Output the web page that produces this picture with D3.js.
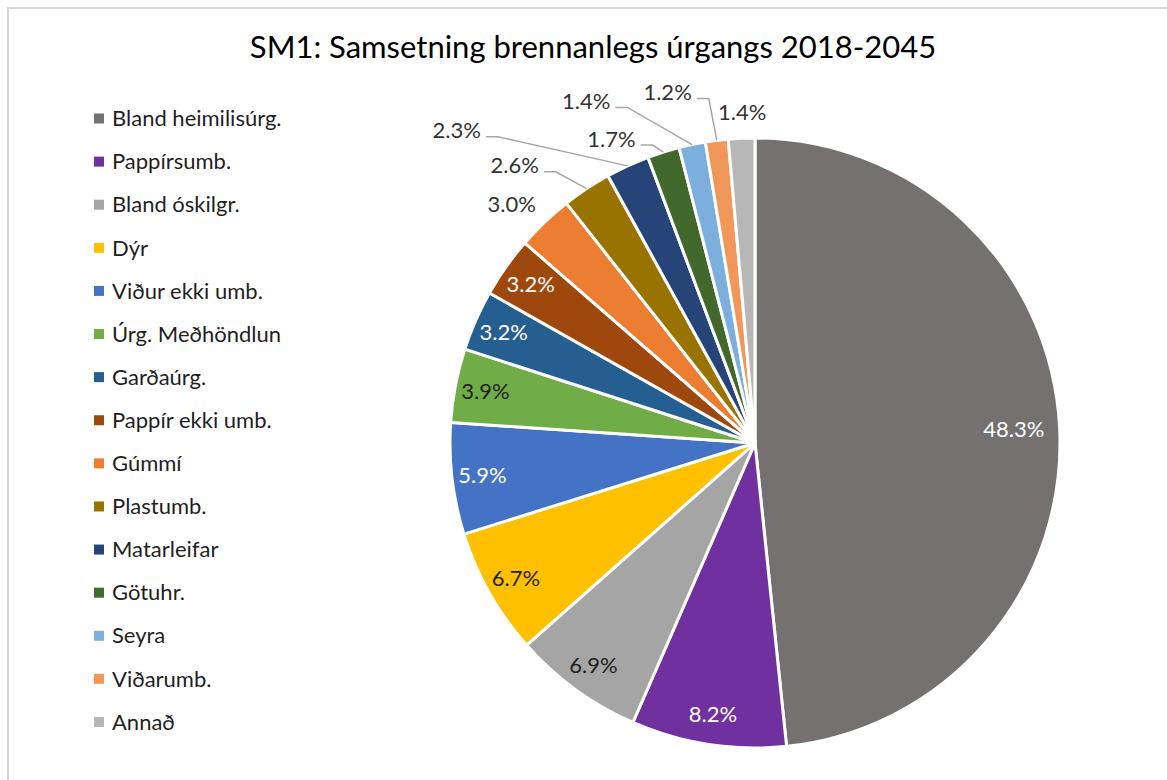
<!DOCTYPE html>
<html>
<head>
<meta charset="utf-8">
<script src="https://cdn.jsdelivr.net/npm/d3@7"></script>
<style>
  body { margin: 0; background: #fff; }
  svg { display: block; font-family: Lato, "Open Sans", sans-serif; }
</style>
</head>
<body>
<svg id="chart"></svg>
<script>
// Chart data
var categories = ["Bland heimilisúrg.", "Pappírsumb.", "Bland óskilgr.", "Dýr", "Viður ekki umb.",
  "Úrg. Meðhöndlun", "Garðaúrg.", "Pappír ekki umb.", "Gúmmí", "Plastumb.", "Matarleifar",
  "Götuhr.", "Seyra", "Viðarumb.", "Annað"];
var shares = [48.3, 8.2, 6.9, 6.7, 5.9, 3.9, 3.2, 3.2, 3.0, 2.6, 2.3, 1.7, 1.4, 1.2, 1.4];
var colors = ["#767171", "#7030A0", "#A5A5A5", "#FFC000", "#4472C4", "#70AD47", "#255E91",
  "#9E480E", "#ED7D31", "#997300", "#264478", "#43682B", "#7CAFDD", "#F1975A", "#B7B7B7"];

// hand tuned placement of the small labels outside the pie: [angle shift deg, radius factor]
var outerLabelNudge = [[-1.9, 1.118], [-7.4, 1.203], [-19, 1.416], [-7.8, 1.102],
  [-14.4, 1.249], [-6.8, 1.184], [0.3, 1.085]];

var W = 1167, H = 780;
var cx = 755, cy = 443, R = 305;

var svg = d3.select("#chart").attr("width", W).attr("height", H);

// chart frame
svg.append("rect")
  .attr("x", 8).attr("y", 8)
  .attr("width", W + 20).attr("height", H + 20)
  .style("fill", "none")
  .style("stroke", "#d9d9d9")
  .style("stroke-width", 2);

// title
svg.append("text")
  .attr("x", 593).attr("y", 58)
  .attr("text-anchor", "middle")
  .style("font-size", "31px")
  .style("fill", "#000")
  .text("SM1: Samsetning brennanlegs úrgangs 2018-2045");

var data = categories.map(function(c, i) {
  return { name: c, value: shares[i], color: colors[i] };
});

var color = d3.scaleOrdinal().domain(categories).range(colors);

var pie = d3.pie().sort(null).value(function(d) { return d.value; });
var arcs = pie(data);

var arc = d3.arc().innerRadius(0).outerRadius(R);

var g = svg.append("g").attr("transform", "translate(" + cx + "," + cy + ")");

g.selectAll("path.slice")
  .data(arcs)
  .enter()
  .append("path")
  .attr("class", "slice")
  .attr("d", arc)
  .style("fill", function(d) { return color(d.data.name); })
  .style("stroke", "#fff")
  .style("stroke-width", 3);

function polar(a, r) {
  return [Math.sin(a) * r, -Math.cos(a) * r];
}
function midAngle(d) { return (d.startAngle + d.endAngle) / 2; }

// labels inside the pie
var inside = arcs.filter(function(d) { return d.data.value >= 3.2; });
g.selectAll("text.inlabel")
  .data(inside)
  .enter()
  .append("text")
  .attr("class", "inlabel")
  .attr("transform", function(d) {
    var p = polar(midAngle(d), R * (d.data.value > 20 ? 0.85 : 0.9));
    return "translate(" + p[0] + "," + p[1] + ")";
  })
  .attr("text-anchor", "middle")
  .attr("dy", "0.35em")
  .style("font-size", "22px")
  .style("fill", function(d) { return d3.lab(d.data.color).l < 55 ? "#fff" : "#1f1f1f"; })
  .text(function(d) { return d.data.value.toFixed(1) + "%"; });

// labels outside the pie, with leader lines where they sit away from the slice
var outside = arcs.filter(function(d) { return d.data.value < 3.2; });
outside.forEach(function(d, i) {
  var nudge = outerLabelNudge[i];
  var a = midAngle(d) + nudge[0] * Math.PI / 180;
  var p = polar(a, R * nudge[1]);
  var t = g.append("text")
    .attr("x", p[0]).attr("y", p[1])
    .attr("text-anchor", "middle")
    .attr("dy", "0.35em")
    .style("font-size", "22px")
    .style("fill", "#333")
    .text(d.data.value.toFixed(1) + "%");
  var bb = t.node().getBBox();
  var edge = polar(midAngle(d), R);
  var dx = Math.max(bb.x - edge[0], 0, edge[0] - (bb.x + bb.width));
  var dy = Math.max(bb.y - edge[1], 0, edge[1] - (bb.y + bb.height));
  if (Math.sqrt(dx * dx + dy * dy) > 20) {
    var x0 = bb.x + bb.width + 5, y0 = p[1] + 6;
    g.insert("polyline", "text")
      .attr("points", [[x0, y0], [x0 + 12, y0], edge].join(" "))
      .style("fill", "none")
      .style("stroke", "#a6a6a6")
      .style("stroke-width", 1.5);
  }
});

// legend
var ly = d3.scalePoint().domain(categories).range([118.5, 722]);
var legend = svg.selectAll("g.legend")
  .data(categories)
  .enter()
  .append("g")
  .attr("class", "legend")
  .attr("transform", function(d) { return "translate(94," + ly(d) + ")"; });

legend.append("rect")
  .attr("x", 0).attr("y", -5)
  .attr("width", 10).attr("height", 10)
  .style("fill", function(d) { return color(d); });

legend.append("text")
  .attr("x", 18)
  .attr("dy", "0.35em")
  .style("font-size", "22px")
  .style("fill", "#1f1f1f")
  .text(function(d) { return d; });
</script>
</body>
</html>
